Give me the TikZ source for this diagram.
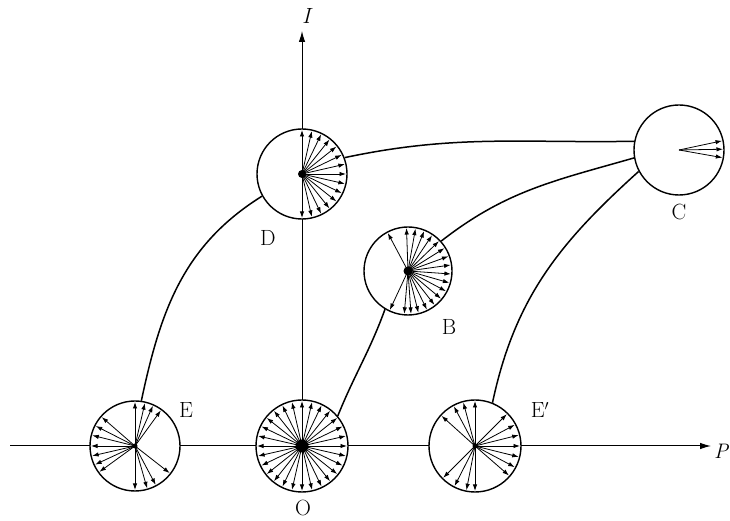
\documentclass[tikz,border=0pt]{standalone}
\usetikzlibrary{arrows.meta}
\begin{document}
\begin{tikzpicture}[x=1pt,y=1pt,
  pol/.style={circle,draw,fill=white,line width=1.4pt,inner sep=0pt},
  ray/.style={-{Latex[length=6.5pt,width=4.4pt]},line width=0.8pt},
  axis/.style={-{Latex[length=11pt,width=6.5pt]},line width=1pt},
  link/.style={line width=1.5pt},
  lab/.style={font=\fontsize{22}{22}\selectfont,inner sep=0pt}]
\useasboundingbox (0,0) rectangle (730,521);
% axes
\coordinate (hl) at (10,75);
\coordinate (hr) at (711,75);
\coordinate (vb) at (302,75);
\coordinate (vt) at (302,490);
\draw[axis] (hl) -- (hr);
\draw[axis] (vb) -- (vt);
\node[lab,font=\fontsize{22}{22}\selectfont\itshape,anchor=west] (Ilab) at (302,505) {I};
\node[lab,font=\fontsize{21}{21}\selectfont\itshape,anchor=west] (Plab) at (714,70) {P};
% circles
\node[pol,minimum size=90pt] (E) at (135,75) {};
\node[pol,minimum size=92pt] (O) at (302,75) {};
\node[pol,minimum size=92pt] (Ep) at (475,75) {};
\node[pol,minimum size=90pt] (D) at (302,347) {};
\node[pol,minimum size=88pt] (B) at (408,250) {};
\node[pol,minimum size=90pt] (C) at (679,371) {};
% connecting curves
\draw[link] (E.82) to[out=78,in=212] (D.209);
\draw[link] (D.21) to[out=12,in=181] (C.169);
\draw[link] (O.40) to[out=68,in=250] (B.239);
\draw[link] (B.42) to[out=38,in=196] (C.190);
\draw[link] (Ep.68) to[out=78,in=222] (C.208);
% arrows in O
\foreach \i in {0,...,27} \draw[ray] (O.center) -- ++({\i*360/28}:45);
\fill (O.center) circle (6.5);
% arrows in D
\foreach \i in {0,...,14} \draw[ray] (D.center) -- ++({-90+\i*180/14}:44);
\fill (D.center) circle (4);
% arrows in B
\foreach \a in {118,92,80,68,56,44,32,20,8,-4,-16,-28,-40,-52,-64,-76,-86,-95,-115}
  \draw[ray] (B.center) -- ++(\a:43);
\fill (B.center) circle (4.5);
% arrows in C
\foreach \a in {12,1,-10} \draw[ray] (C.center) -- ++(\a:44);
% arrows in E
\foreach \a in {90,77,66,54,139,153,166,180,193,205,216,270,286,298,322}
  \draw[ray] (E.center) -- ++(\a:44);
\fill (E.center) circle (2.5);
% arrows in E'
\foreach \a in {90,105,118,138,45,28,14,0,-14,-28,-41,-90,-101,-117,-135}
  \draw[ray] (Ep.center) -- ++(\a:45);
\fill (Ep.center) circle (2.5);
% labels
\node[lab] (Elab) at (186,111) {E};
\node[lab] (Olab) at (303,13) {O};
\node[lab] (Eplab) at (540,111) {E$'$};
\node[lab] (Dlab) at (268,283) {D};
\node[lab] (Blab) at (449,194) {B};
\node[lab] (Clab) at (679,309) {C};
\end{tikzpicture}
\end{document}
